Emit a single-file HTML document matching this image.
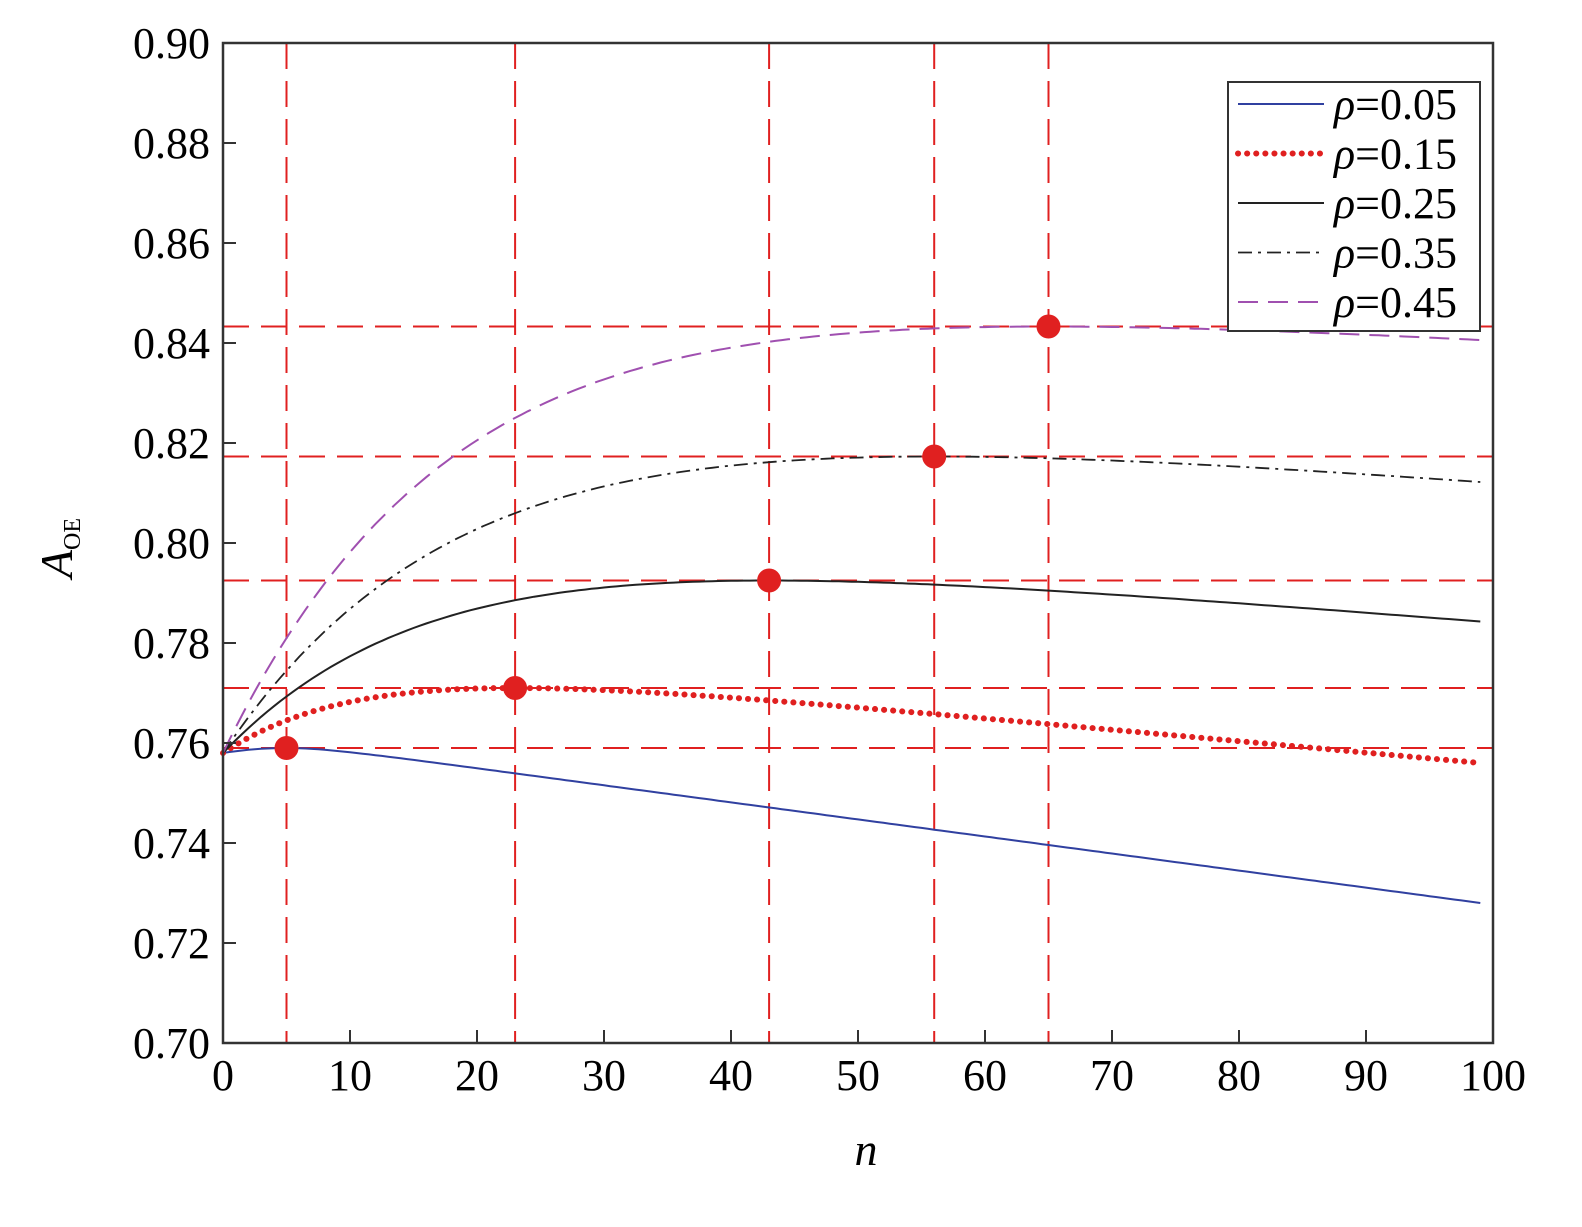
<!DOCTYPE html><html><head><style>body{margin:0;background:#fff}svg{display:block}</style></head><body>
<svg id="s" width="1582" height="1227" xmlns="http://www.w3.org/2000/svg" font-family="Liberation Serif, serif">
<rect width="1582" height="1227" fill="#fff"/>
<g id="g"></g>
</svg>
<script>
const X=n=>223+n*12.7, Y=v=>43+(0.9-v)*5000;
const g=document.getElementById('g');let h='';
const curves=[
 {np:5,vp:0.759,ve:0.728,st:'stroke="#3040a0" stroke-width="2"'},
 {np:23,vp:0.771,ve:0.756,st:'stroke="#e02020" stroke-width="6" stroke-dasharray="0.1 9" stroke-linecap="round"'},
 {np:43,vp:0.7925,ve:0.7843,st:'stroke="#222" stroke-width="2"'},
 {np:56,vp:0.8173,ve:0.8122,st:'stroke="#222" stroke-width="1.8" stroke-dasharray="14 6 3 6"'},
 {np:65,vp:0.8433,ve:0.8406,st:'stroke="#a050b0" stroke-width="2" stroke-dasharray="20 10"'}];
const a0=0.758;
function mk(t,c){const e=Math.exp(-c.np/t);const B=(c.vp-a0)/(1-e-c.np/t*e);const k=B/t*e;return n=>a0+B*(1-Math.exp(-n/t))-k*n;}
const rd='stroke="#e02020" stroke-width="2" stroke-dasharray="26 12"';
curves.forEach(c=>{h+=`<line x1="${X(c.np)}" y1="43" x2="${X(c.np)}" y2="1043" ${rd}/>`;h+=`<line x1="223" y1="${Y(c.vp)}" x2="1493" y2="${Y(c.vp)}" ${rd}/>`;});
curves.forEach((c,i)=>{let lo=0.3,hi=c.np*3;for(let j=0;j<60;j++){const m=(lo+hi)/2;const f=mk(m,c);if(f(99)>c.ve)lo=m;else hi=m;}let f=mk((lo+hi)/2,c);
 if(i==0){const k=30,gg=u=>u-(1-Math.exp(-k*u))/k,g1=gg(1);f=n=>{if(n<=5)return 0.758+0.001*(1-Math.pow(1-n/5,2));return 0.759-0.031*gg((n-5)/94)/g1;};}
 let d='';for(let n=0;n<=99;n+=0.5)d+=(n?'L':'M')+X(n).toFixed(1)+','+Y(f(n)).toFixed(1);h+=`<path d="${d}" fill="none" ${c.st}/>`;});
curves.forEach(c=>{h+=`<circle cx="${X(c.np)}" cy="${Y(c.vp)}" r="12" fill="#e02020"/>`;});
h+='<rect x="223" y="43" width="1270" height="1000" fill="none" stroke="#333" stroke-width="2.5"/>';
for(let i=0;i<=10;i++){const x=X(i*10);h+=`<line x1="${x}" y1="1043" x2="${x}" y2="1030" stroke="#333" stroke-width="2"/><text x="${x}" y="1090" font-size="44" text-anchor="middle">${i*10}</text>`;
 const v=0.7+i*0.02,y=Y(v);h+=`<line x1="223" y1="${y}" x2="236" y2="${y}" stroke="#333" stroke-width="2"/><text x="210" y="${y+15}" font-size="44" text-anchor="end">${v.toFixed(2)}</text>`;}
h+='<text x="866" y="1165" font-size="46" font-style="italic" text-anchor="middle">n</text>';
h+='<g transform="translate(72,548) rotate(-90)"><text x="0" y="0" font-size="46" font-style="italic" text-anchor="middle">A<tspan font-size="24" font-style="normal" dy="8">OE</tspan></text></g>';
h+='<rect x="1228" y="82" width="252" height="249" fill="#fff" stroke="#333" stroke-width="2"/>';
const lab=['0.05','0.15','0.25','0.35','0.45'];
curves.forEach((c,i)=>{const y=104+i*49.5;h+=`<line x1="1238" y1="${y}" x2="1324" y2="${y}" ${c.st}/><text x="1334" y="${y+15}" font-size="44"><tspan font-style="italic">ρ</tspan>=${lab[i]}</text>`;});
g.innerHTML=h;
</script>
</body></html>
